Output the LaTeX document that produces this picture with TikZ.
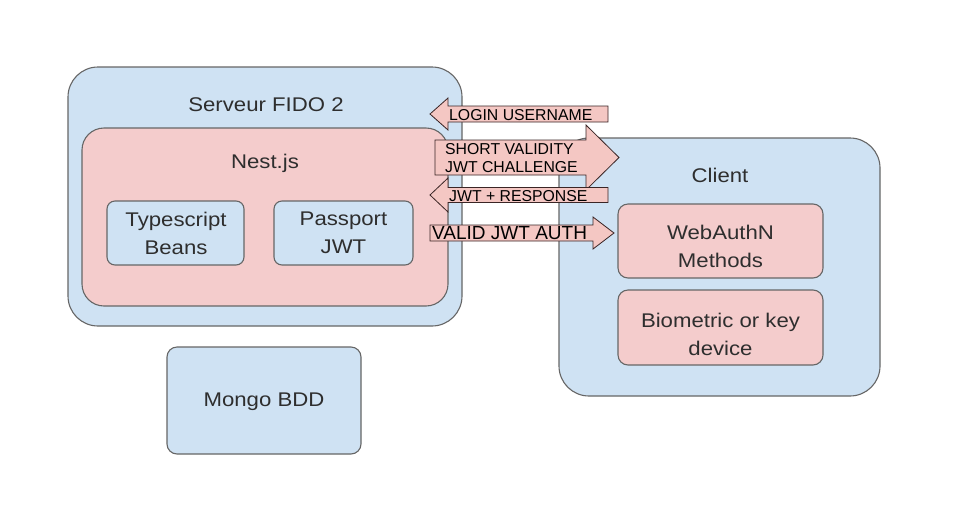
\documentclass[tikz,border=0pt]{standalone}
\usepackage{fontspec}
\setmainfont{Liberation Sans}
\newfontfamily\bigfont[FakeStretch=1.12]{Liberation Sans}
\definecolor{bxblue}{HTML}{CFE2F3}
\definecolor{bxpink}{HTML}{F4CCCC}
\definecolor{bxline}{HTML}{666666}
\definecolor{arline}{HTML}{3A2525}
\definecolor{arfill}{HTML}{F4C7C3}
\definecolor{txt}{HTML}{2E2E2E}
\begin{document}
\begin{tikzpicture}[x=1pt,y=-1pt,
  bluebox/.style={draw=bxline,line width=1.1pt,fill=bxblue,rectangle,inner sep=0pt},
  pinkbox/.style={draw=bxline,line width=1.1pt,fill=bxpink,rectangle,inner sep=0pt},
  biglabel/.style={text=txt,font=\bigfont\fontsize{19.8}{28}\selectfont,align=center,inner sep=0pt},
  arrowshape/.style={draw=arline,line width=0.8pt,fill=arfill,line join=miter},
  arrowtext/.style={text=black,font=\fontsize{15.8}{18}\selectfont,align=left,inner sep=0pt,anchor=west}]
\useasboundingbox (0,0) rectangle (957,504);
\fill[white] (0,0) rectangle (957,504);
% server
\node[bluebox,rounded corners=30pt,minimum width=394pt,minimum height=259pt] (srv) at (265,196.5) {};
\node[biglabel] (srvt) at (266,105) {Serveur FIDO 2};
\node[pinkbox,rounded corners=22pt,minimum width=366pt,minimum height=178pt] (nest) at (265,217) {};
\node[biglabel] (nestt) at (265,163) {Nest.js};
\node[bluebox,rounded corners=8pt,minimum width=137pt,minimum height=64pt] (ts) at (175.5,233) {};
\node[biglabel] (tst) at (176,233) {Typescript\\Beans};
\node[bluebox,rounded corners=8pt,minimum width=139pt,minimum height=64pt] (pp) at (343.5,233) {};
\node[biglabel] (ppt) at (343.5,233) {Passport\\JWT};
% mongo
\node[bluebox,rounded corners=10pt,minimum width=194pt,minimum height=107pt] (mongo) at (264,400.5) {};
\node[biglabel] (mongot) at (264,402) {Mongo BDD};
% client
\node[bluebox,rounded corners=30pt,minimum width=321pt,minimum height=258pt] (cli) at (719.5,267) {};
\node[biglabel] (clit) at (720,175) {Client};
\node[pinkbox,rounded corners=10pt,minimum width=205pt,minimum height=74pt] (wa) at (720.5,241) {};
\node[biglabel] (wat) at (720.5,246) {WebAuthN\\Methods};
\node[pinkbox,rounded corners=10pt,minimum width=205pt,minimum height=75pt] (bio) at (720.5,327.5) {};
\node[biglabel] (biot) at (720.5,334) {Biometric or key\\device};
% arrows
\draw[arrowshape] (608,106) -- (448,106) -- (448,98) -- (430,114) -- (448,130) -- (448,122) -- (608,122) -- cycle;
\node[arrowtext] (a1) at (449,115) {LOGIN USERNAME};
\draw[arrowshape] (435,140) -- (586,140) -- (586,125) -- (619,157.5) -- (586,190) -- (586,175) -- (435,175) -- cycle;
\node[arrowtext] (a2) at (445,158.5) {SHORT VALIDITY\\JWT CHALLENGE};
\draw[arrowshape] (608,187.5) -- (448,187.5) -- (448,178) -- (430,195) -- (448,212) -- (448,202.5) -- (608,202.5) -- cycle;
\node[arrowtext] (a3) at (449,196) {JWT + RESPONSE};
\draw[arrowshape] (430,225) -- (593,225) -- (593,217) -- (614,233) -- (593,249) -- (593,241) -- (430,241) -- cycle;
\node[arrowtext,font=\fontsize{19}{20}\selectfont] (a4) at (432,233.5) {VALID JWT AUTH};
\end{tikzpicture}
\end{document}
